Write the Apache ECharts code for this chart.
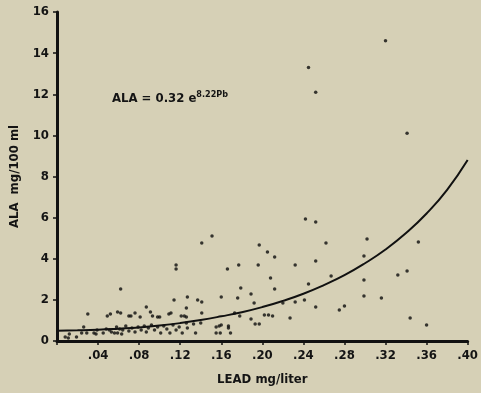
<!DOCTYPE html>
<html>
<head>
<meta charset="utf-8">
<script src="https://cdn.jsdelivr.net/npm/echarts@6/dist/echarts.min.js"></script>
<style>
html,body{margin:0;padding:0;background:#d6d0b6;}
#c{width:481px;height:393px;}
</style>
</head>
<body>
<div id="c"></div>
<script>
// Scatter observations: lead (mg/liter) and ALA (mg/100 ml)
const leadValues = [
  .008,.011,.012,.019,.024,.026,.029,.036,.038,.039,.045,.048,.051,.053,.056,.058,.059,.061,.063,.064,
  .067,.070,.073,.076,.079,.082,.085,.087,.089,.092,.095,.098,.101,.104,.107,.110,.113,.116,.119,.122,
  .126,.127,.133,.135,.140,.155,.158,.160,.155,.159,.167,.167,.169,
  .030,.049,.052,.059,.062,.062,.070,.072,.076,.081,.087,.091,.093,.098,.100,.109,.111,.114,.116,.116,
  .121,.124,.127,.126,.126,.137,.141,.141,.141,.151,.160,.166,.173,.176,.177,.178,.179,
  .189,.189,.192,.193,.197,.196,.197,.202,.205,.206,.208,.210,.212,.212,.220,.227,.232,.232,.241,.242,
  .245,.245,.252,.252,.252,.252,.262,.267,.275,.280,.299,.299,.302,.299,.316,.320,.332,.341,.341,.344,
  .352,.360
];
const alaValues = [
  .19,.15,.34,.19,.39,.68,.39,.39,.34,.54,.39,.58,.54,.44,.39,.68,.39,.58,.34,.54,
  .73,.49,.63,.44,.68,.54,.73,.44,.63,.78,.54,.68,.39,.73,.58,.39,.78,.54,.68,.39,
  .88,.63,.83,.39,.88,.68,.73,.78,.39,.39,.73,.63,.39,
  1.31,1.22,1.31,1.41,2.53,1.36,1.22,1.22,1.36,1.17,1.65,1.41,1.22,1.17,1.17,1.31,1.36,1.99,3.70,3.50,
  1.22,1.22,2.14,1.60,1.17,1.99,1.90,1.36,4.77,5.11,2.14,3.50,1.36,2.09,3.70,1.22,2.58,
  2.29,1.07,1.85,.83,.83,3.70,4.67,1.26,4.33,1.26,3.06,1.22,4.09,2.53,1.85,1.12,3.70,1.90,1.99,5.93,
  2.77,13.3,12.1,5.79,3.89,1.65,4.77,3.16,1.51,1.70,2.97,4.13,4.96,2.19,2.09,14.6,3.21,3.40,10.1,1.12,
  4.82,.78
];
// Fitted curve as drawn
const curveLead = [0,.02,.04,.06,.08,.10,.12,.14,.16,.18,.20,.22,.24,.26,.28,.30,.32,.34,.36,.38,.40];
const curveAla  = [.50,.52,.55,.60,.66,.75,.87,1.02,1.2,1.4,1.65,1.95,2.3,2.72,3.2,3.78,4.45,5.25,6.2,7.35,8.8];
const yTicks = [0,2,4,6,8,10,12,14,16];

const FONT = '"DejaVu Sans Condensed","Liberation Sans Narrow","Liberation Sans",sans-serif';
const TXT = '#141414';
const chart = echarts.init(document.getElementById('c'));
chart.setOption({
  backgroundColor: '#d6d0b6',
  animation: false,
  grid: {left: 57, right: 8, top: 12, bottom: 52},
  xAxis: {
    type: 'value', min: 0, max: 0.4, interval: 0.04,
    name: 'LEAD mg/liter', nameLocation: 'middle', nameGap: 32,
    nameTextStyle: {fontFamily: FONT, fontWeight: 'bold', fontSize: 13, color: TXT},
    axisLine: {lineStyle: {color: '#111', width: 3}},
    axisTick: {show: true, length: 4, lineStyle: {color: '#111', width: 1.5}},
    axisLabel: {fontFamily: FONT, fontWeight: 'bold', fontSize: 13, color: TXT, margin: 8,
      formatter: v => v === 0 ? '' : v.toFixed(2).replace(/^0/, '')},
    splitLine: {show: false}
  },
  yAxis: {
    type: 'value', min: yTicks[0], max: yTicks[yTicks.length-1], interval: 2,
    name: 'ALA  mg/100 ml', nameLocation: 'middle', nameGap: 36,
    nameTextStyle: {fontFamily: FONT, fontWeight: 'bold', fontSize: 13, color: TXT},
    axisLine: {show: true, lineStyle: {color: '#111', width: 3}},
    axisTick: {show: true, length: 4, lineStyle: {color: '#111', width: 1.5}},
    axisLabel: {fontFamily: FONT, fontWeight: 'bold', fontSize: 13, color: TXT, margin: 8},
    splitLine: {show: false}
  },
  graphic: [{
    type: 'text', left: 112, top: 90,
    style: {
      text: '{a|ALA = 0.32 e}{s|8.22Pb}',
      rich: {
        a: {fontFamily: FONT, fontWeight: 'bold', fontSize: 13, fill: TXT, verticalAlign: 'bottom'},
        s: {fontFamily: FONT, fontWeight: 'bold', fontSize: 9, fill: TXT, verticalAlign: 'top', padding: [0,0,6,0]}
      }
    }
  }],
  series: [
    {
      type: 'scatter', symbolSize: 3.5,
      itemStyle: {color: '#0d0d0d'},
      data: leadValues.map((x, i) => [x, alaValues[i]])
    },
    {
      type: 'line', smooth: true, showSymbol: false,
      lineStyle: {color: '#111', width: 2},
      data: curveLead.map((x, i) => [x, curveAla[i]])
    }
  ]
});
</script>
</body>
</html>
